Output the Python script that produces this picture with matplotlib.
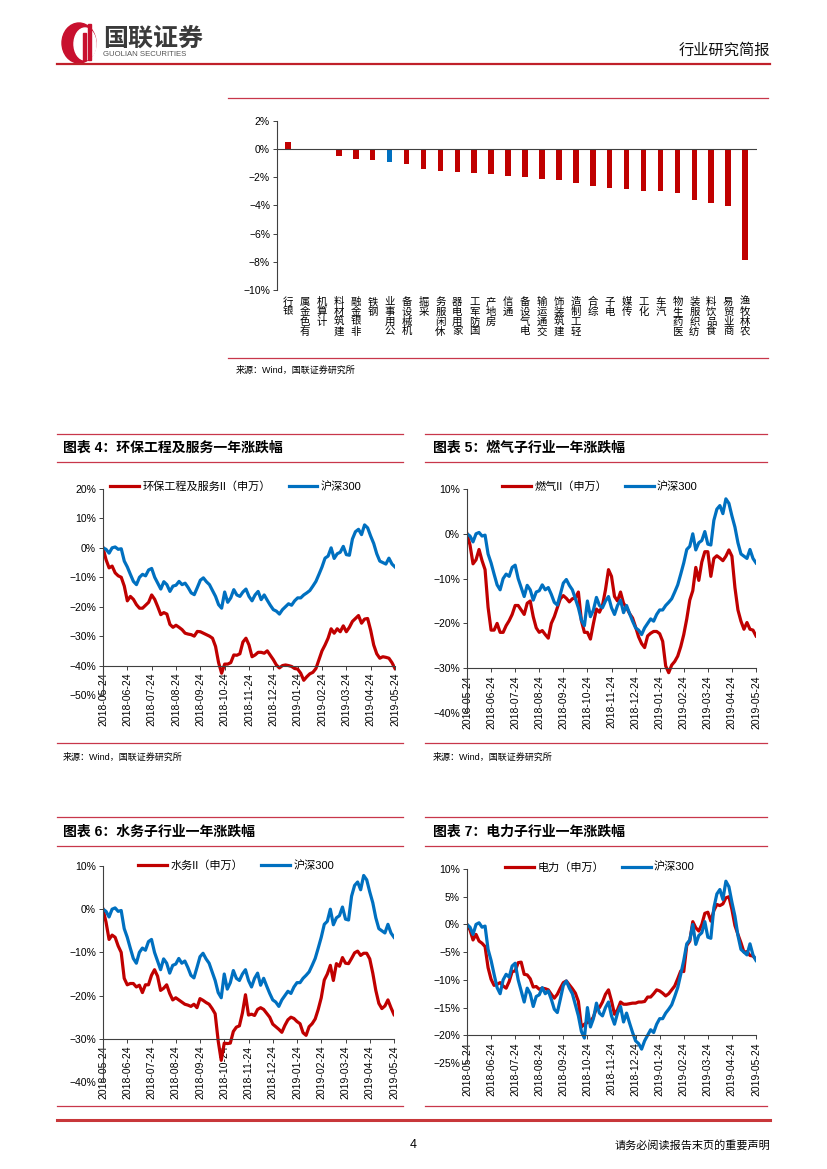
import numpy as np
import matplotlib
matplotlib.use('Agg')
import matplotlib.pyplot as plt
from matplotlib.patches import Ellipse, Rectangle

plt.rcParams['font.family'] = ['Liberation Sans', 'Noto Sans CJK SC']
plt.rcParams['axes.unicode_minus'] = True

W, H = 827, 1169
RED = '#C00000'
BLUE = '#0070C0'
RULE = '#C8374A'

# 申万一级行业 周涨跌幅 (%)
inds = ['银行', '有色金属', '计算机', '建筑材料', '非银金融', '钢铁', '公用事业', '机械设备',
        '采掘', '休闲服务', '家用电器', '国防军工', '房地产', '通信', '电气设备', '交通运输',
        '建筑装饰', '轻工制造', '综合', '电子', '传媒', '化工', '汽车', '医药生物',
        '纺织服装', '食品饮料', '商业贸易', '农林牧渔']
chg = [0.5, -0.03, -0.1, -0.5, -0.7, -0.8, -0.95, -1.05,
       -1.4, -1.55, -1.65, -1.7, -1.75, -1.95, -2.0, -2.1,
       -2.2, -2.4, -2.65, -2.75, -2.85, -2.95, -2.95, -3.1,
       -3.6, -3.8, -4.05, -7.85]

# 一年涨跌幅 (%), 每月约 8 个读数, 2018-05-24 ~ 2019-05-24
dates = ['2018-05-24', '2018-06-24', '2018-07-24', '2018-08-24', '2018-09-24',
         '2018-10-24', '2018-11-24', '2018-12-24', '2019-01-24', '2019-02-24',
         '2019-03-24', '2019-04-24', '2019-05-24']

hs300 = [0, -0.5, -1.8, 0, 0.3, -0.5, -0.3, -4.5,
         -6.5, -9, -11.4, -12.5, -10, -9, -9.5, -7.5,
         -7, -10, -12, -14, -11.5, -12.5, -14.8, -13,
         -12.7, -11.4, -12.5, -12, -13.5, -15.3, -15.9, -13.5,
         -11, -10.2, -11.5, -12.5, -14.5, -16.5, -19.3, -20.5,
         -15, -18.5, -17, -14.2, -16, -16.5, -15, -14,
         -16.5, -18, -16, -14.8, -17.6, -16, -17.8, -19.5,
         -21, -21.5, -22.5, -21, -20, -19, -19.5, -18,
         -17, -17, -16, -15.3, -14.5, -13, -11.4, -9,
         -6.5, -3.5, -2.8, 0, -3.6, -2, -1.5, 0.5,
         -2.3, -2.5, 3, 5.5, 6.3, 4.5, 7.8, 6.8,
         4, 1.5, -2, -4.5, -5, -5.5, -3.5, -5.5,
         -6.5]

huanbao = [0, -4, -6.8, -6.2, -8.5, -9.5, -10, -13,
           -18, -16.5, -17.5, -19.3, -20.5, -20.5, -19.5, -18.5,
           -16, -17.5, -20, -22.7, -22, -22.5, -26, -27,
           -26.3, -27, -27.8, -29, -29.3, -29.5, -30, -28.4,
           -28.5, -29, -29.5, -30, -30.7, -33.5, -39, -42.6,
           -39.5, -39.5, -39, -36.4, -36.5, -36, -32, -30.7,
           -33, -37, -36.4, -35.5, -35.5, -35.8, -35, -36.5,
           -38, -39.8, -40.8, -40, -39.8, -40, -40.3, -41,
           -41.2, -42.6, -45, -43.8, -42.8, -42.3, -41, -38,
           -35, -33, -30.7, -27.5, -29, -27.5, -28.5, -26.5,
           -28.5, -27, -25, -24, -23, -25.6, -24.2, -24,
           -28, -33, -36, -37.5, -37, -37.2, -37.5, -39,
           -41]

ranqi = [0, -2.5, -6.7, -5.8, -3.5, -6, -8, -16.4,
         -21.5, -21.5, -20, -22, -22, -20.5, -19.4, -18,
         -16, -16, -17, -18, -15.5, -15, -18.5, -21,
         -22, -21.6, -22.5, -23.3, -20, -18.5, -16.5, -14.5,
         -13.8, -14.4, -15.2, -14.5, -14.3, -13, -19.4, -22,
         -22, -23.5, -20, -16.8, -17.5, -16, -12.5, -8,
         -9.5, -14, -15, -13, -15.5, -16.5, -17.8, -18.8,
         -20.8, -23, -24.5, -25.4, -22.8, -22.2, -21.8, -21.8,
         -22.3, -24, -29.5, -31, -29.3, -28.5, -27.3, -25.2,
         -22.5, -19, -14.8, -12.7, -7.5, -10.4, -6.3, -4,
         -4, -9.5, -5.5, -4.9, -5.4, -6, -5, -3.6,
         -5, -12, -17, -19.5, -21.3, -19.8, -21.3, -21.5,
         -22.8]

shuiwu = [0, -3, -7, -6, -6.5, -8.5, -10, -16,
          -17.5, -17.2, -17.2, -18, -17.6, -19.3, -17.5, -17.5,
          -15.3, -14, -15.5, -18.8, -18.3, -17.5, -19.5, -21,
          -20.5, -21, -21.5, -22, -22.2, -22.5, -22, -22.8,
          -20.7, -21.1, -21.6, -22, -23, -24.2, -30.5, -35,
          -31, -31.1, -31, -28.3, -27.3, -27, -24, -19.8,
          -24.5, -24.3, -24.6, -23.2, -22.8, -23.2, -24.1, -25,
          -26.6, -27.2, -27.8, -28.5, -26.9, -25.6, -25, -25.3,
          -26, -26.5, -28.6, -29.2, -27.2, -26.5, -25.4, -23.2,
          -20.5, -16.4, -15, -13, -16.5, -12.6, -13.2, -11.2,
          -12.5, -12.6, -11.4, -10.1, -9.7, -10.7, -10.2, -10.2,
          -11.5, -14.8, -18.8, -21.8, -23, -22.4, -21, -22.8,
          -24.4]

dianli = [0, -1, -2.8, -1.8, -3, -3.4, -4, -7.8,
          -9.9, -11, -10.8, -10.5, -11.1, -11.5, -10.3, -8.5,
          -8.4, -6.9, -6.8, -9, -9.1, -9.8, -11.3, -11.2,
          -11.7, -11.5, -11.6, -11.8, -12.6, -13.3, -12.6, -11.5,
          -10.5, -10.2, -10.9, -11.6, -12.4, -13.9, -18.5, -18,
          -17.7, -17.5, -16.7, -15.1, -15, -14, -12.6, -11.8,
          -13.8, -16.2, -15.4, -14, -14.4, -14.4, -14.3, -14.2,
          -14.2, -14, -14, -13.9, -13.1, -13.1, -12.5, -11.8,
          -12, -12.4, -12.9, -12.5, -11.8, -11.1, -9.8, -8.4,
          -8.5, -3.8, -3, 0.5, -0.6, -1.2, 0, 2,
          2.2, 0.6, 2.5, 3.6, 3.4, 3.7, 4.8, 5,
          2.7, -0.2, -1.8, -3.3, -5, -4.9, -5.6, -5.7,
          -6.3]


def pct(v):
    return f'{v:g}%'.replace('-', '\u2212')


def px_axes(fig, l, t, r, b):
    return fig.add_axes([l / W, 1 - b / H, (r - l) / W, (b - t) / H])


fig = plt.figure(figsize=(W / 100, H / 100), dpi=100)

# 页面底板（像素坐标）
bg = fig.add_axes([0, 0, 1, 1])
bg.set_xlim(0, W)
bg.set_ylim(H, 0)
bg.axis('off')

# logo
bg.add_patch(Ellipse((79, 43), 34, 40, color='#C8102E'))
bg.add_patch(Ellipse((85, 44), 22, 32, color='white'))
bg.add_patch(Rectangle((83, 33), 3, 27, color='#C8102E'))
bg.add_patch(Rectangle((88, 24), 3, 36, color='#C8102E'))
bg.text(103, 39, '国联证券', fontsize=18, fontweight='bold', color='#3a3a3a', va='center')
bg.text(103, 55, 'GUOLIAN SECURITIES', fontsize=5.6, color='#555555', va='center')
bg.text(770, 50, '行业研究简报', fontsize=11, ha='right', va='center', color='#111111')
bg.plot([57, 770], [64, 64], color='#C0202A', lw=1.6)

# 柱状图框线
bg.plot([228, 768], [98, 98], color=RULE, lw=0.9)
bg.plot([228, 768], [358, 358], color=RULE, lw=0.9)
bg.text(236, 370, '来源：Wind，国联证券研究所', fontsize=6.5, va='center')

# 四个折线图框线
titles = [(63, 448, '图表 4：环保工程及服务一年涨跌幅'),
          (433, 448, '图表 5：燃气子行业一年涨跌幅'),
          (63, 832, '图表 6：水务子行业一年涨跌幅'),
          (433, 832, '图表 7：电力子行业一年涨跌幅')]
for x0, x1, top, mid, bot in [(57, 403, 434, 462, 743), (425, 767, 434, 462, 743),
                              (57, 403, 817, 846, 1106), (425, 767, 817, 846, 1106)]:
    for yy in (top, mid, bot):
        bg.plot([x0, x1], [yy, yy], color=RULE, lw=0.9)
for tx, ty, s in titles:
    bg.text(tx, ty, s, fontsize=10, fontweight='bold', va='center')
bg.text(63, 757, '来源：Wind，国联证券研究所', fontsize=6.5, va='center')
bg.text(433, 757, '来源：Wind，国联证券研究所', fontsize=6.5, va='center')

# 页脚
bg.plot([57, 770], [1120, 1120], color='#C8373A', lw=2.2)
bg.text(413, 1145, '4', fontsize=9, ha='center', va='center')
bg.text(770, 1145, '请务必阅读报告末页的重要声明', fontsize=8, ha='right', va='center')

# 柱状图
ax = px_axes(fig, 277, 120.7, 757, 290)
xb = np.arange(len(inds))
colors = [BLUE if s == '公用事业' else RED for s in inds]
ax.bar(xb, chg, width=0.33, color=colors)
ax.axhline(0, color='#404040', lw=0.8)
ax.set_xlim(-0.65, len(inds) - 0.3)
ax.set_ylim(-10, 2)
yt = list(range(-10, 3, 2))
ax.set_yticks(yt)
ax.set_yticklabels([pct(v) for v in yt], fontsize=7.5)
ax.set_xticks(xb)
ax.set_xticklabels(['\n'.join(reversed(s)) for s in inds], fontsize=7.5, linespacing=0.98)
ax.tick_params(axis='x', length=0, pad=5)
ax.tick_params(axis='y', length=3, width=0.7, pad=2, color='#404040')
for sp in ('top', 'right', 'bottom'):
    ax.spines[sp].set_visible(False)
ax.spines['left'].set_color('#404040')
ax.spines['left'].set_linewidth(0.8)
ax.patch.set_alpha(0)

# 折线图
xm = np.arange(len(hs300)) / 8.0


def line_panel(rect, ylo, yhi, ybase, ystep, name, vals, leg_x, leg_y):
    a = px_axes(fig, *rect)
    # 横轴放在 ybase 处（先设位置，再设刻度，否则刻度会被重置）
    a.spines['bottom'].set_position(('data', ybase))
    a.plot(xm, vals, color=RED, lw=2.3, label=name, solid_joinstyle='round')
    a.plot(xm, hs300, color=BLUE, lw=2.3, label='沪深300', solid_joinstyle='round')
    a.set_xlim(0, 12)
    a.set_ylim(ylo, yhi)
    ticks = list(range(ylo, yhi + 1, ystep))
    a.set_yticks(ticks)
    a.set_yticklabels([pct(v) for v in ticks], fontsize=7.5)
    a.set_xticks(range(13))
    a.set_xticklabels(dates, fontsize=7.5, rotation=90)
    for sp in ('top', 'right'):
        a.spines[sp].set_visible(False)
    for sp in ('left', 'bottom'):
        a.spines[sp].set_color('#404040')
        a.spines[sp].set_linewidth(0.8)
    a.tick_params(axis='both', length=3, width=0.7, pad=2, color='#404040')
    a.legend(loc='center', bbox_to_anchor=(leg_x, leg_y), ncol=2, frameon=False,
             fontsize=8, handlelength=2.6, handletextpad=0.3, columnspacing=1.6,
             borderaxespad=0)
    a.patch.set_alpha(0)
    return a


line_panel((103, 489, 395, 695), -50, 20, -40, 10, '环保工程及服务II（申万）', huanbao, 0.455, 1.01)
line_panel((467, 489, 756, 713), -40, 10, -30, 10, '燃气II（申万）', ranqi, 0.46, 1.01)
line_panel((103, 866, 394, 1082), -40, 10, -30, 10, '水务II（申万）', shuiwu, 0.457, 1.0)
line_panel((467, 869, 756, 1063), -25, 10, -20, 5, '电力（申万）', dianli, 0.46, 1.01)

fig.savefig('out.png', dpi=100)
